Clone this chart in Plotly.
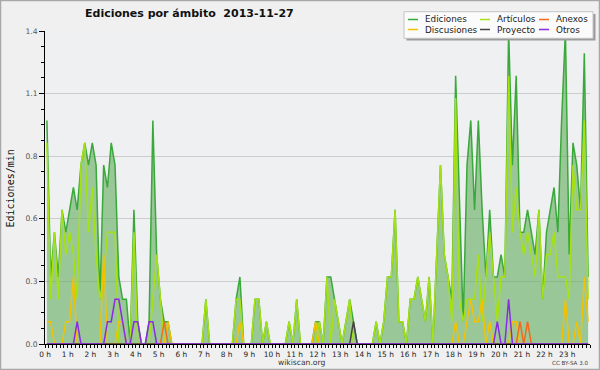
import plotly.graph_objects as go

# ---------------- data ----------------
TITLE = "Ediciones por ámbito  2013-11-27"
Y_LABEL = "Ediciones/min"
SOURCE = "wikiscan.org"
LICENSE = "CC BY-SA 3.0"

# centre of each 10-minute bin, in minutes since midnight
MINUTES = [5 + 10 * i for i in range(144)]

EDICIONES = [
    1.0, 0.3, 0.5, 0.3, 0.6, 0.5, 0.6, 0.7, 0.6, 0.8, 0.9, 0.8,
    0.9, 0.8, 0.2, 0.8, 0.7, 0.9, 0.8, 0.3, 0.2, 0.2, 0.0, 0.6,
    0.1, 0.0, 0.0, 0.1, 1.0, 0.4, 0.2, 0.1, 0.1, 0.0, 0.0, 0.0,
    0.0, 0.0, 0.0, 0.0, 0.0, 0.0, 0.2, 0.0, 0.0, 0.0, 0.0, 0.0,
    0.0, 0.0, 0.2, 0.3, 0.0, 0.0, 0.0, 0.2, 0.2, 0.0, 0.1, 0.0,
    0.0, 0.0, 0.0, 0.0, 0.1, 0.0, 0.2, 0.0, 0.0, 0.0, 0.0, 0.1,
    0.1, 0.0, 0.3, 0.3, 0.2, 0.1, 0.0, 0.1, 0.2, 0.1, 0.0, 0.0,
    0.0, 0.0, 0.0, 0.1, 0.0, 0.1, 0.3, 0.3, 0.6, 0.1, 0.1, 0.0,
    0.2, 0.2, 0.3, 0.2, 0.1, 0.3, 0.0, 0.4, 0.8, 0.4, 0.3, 0.2,
    1.2, 0.6, 0.1, 0.8, 1.0, 0.6, 1.0, 0.6, 0.3, 0.6, 0.3, 0.3,
    0.4, 0.3, 1.4, 0.8, 1.2, 0.5, 0.5, 0.6, 0.5, 0.4, 0.6, 0.2,
    0.5, 0.6, 0.7, 0.5, 1.0, 1.4, 0.4, 0.9, 0.8, 0.6, 1.3, 0.3,
]

ARTICULOS = [
    0.9, 0.2, 0.5, 0.2, 0.6, 0.4, 0.5, 0.4, 0.2, 0.8, 0.9, 0.5,
    0.7, 0.4, 0.2, 0.3, 0.5, 0.5, 0.5, 0.0, 0.0, 0.0, 0.0, 0.5,
    0.0, 0.0, 0.0, 0.0, 0.2, 0.4, 0.2, 0.0, 0.0, 0.0, 0.0, 0.0,
    0.0, 0.0, 0.0, 0.0, 0.0, 0.0, 0.2, 0.0, 0.0, 0.0, 0.0, 0.0,
    0.0, 0.0, 0.2, 0.2, 0.0, 0.0, 0.0, 0.2, 0.2, 0.0, 0.1, 0.0,
    0.0, 0.0, 0.0, 0.0, 0.1, 0.0, 0.2, 0.0, 0.0, 0.0, 0.0, 0.0,
    0.1, 0.0, 0.3, 0.0, 0.2, 0.1, 0.0, 0.1, 0.2, 0.0, 0.0, 0.0,
    0.0, 0.0, 0.0, 0.1, 0.0, 0.1, 0.3, 0.3, 0.6, 0.1, 0.1, 0.0,
    0.2, 0.2, 0.3, 0.2, 0.1, 0.3, 0.0, 0.4, 0.8, 0.4, 0.3, 0.1,
    1.1, 0.2, 0.1, 0.2, 0.2, 0.2, 0.4, 0.1, 0.3, 0.5, 0.3, 0.1,
    0.3, 0.3, 1.2, 0.5, 0.7, 0.5, 0.4, 0.5, 0.4, 0.3, 0.6, 0.2,
    0.4, 0.4, 0.5, 0.3, 0.3, 0.3, 0.2, 0.8, 0.6, 0.6, 1.0, 0.2,
]

DISCUSIONES = [
    0.1, 0.1, 0.0, 0.0, 0.0, 0.1, 0.1, 0.3, 0.0, 0.0, 0.0, 0.0,
    0.0, 0.0, 0.0, 0.4, 0.0, 0.0, 0.0, 0.1, 0.1, 0.0, 0.0, 0.0,
    0.0, 0.0, 0.0, 0.0, 0.0, 0.0, 0.0, 0.0, 0.1, 0.0, 0.0, 0.0,
    0.0, 0.0, 0.0, 0.0, 0.0, 0.0, 0.0, 0.0, 0.0, 0.0, 0.0, 0.0,
    0.0, 0.0, 0.0, 0.1, 0.0, 0.0, 0.0, 0.0, 0.0, 0.0, 0.0, 0.0,
    0.0, 0.0, 0.0, 0.0, 0.0, 0.0, 0.0, 0.0, 0.0, 0.0, 0.0, 0.1,
    0.0, 0.0, 0.0, 0.0, 0.0, 0.0, 0.0, 0.0, 0.0, 0.0, 0.0, 0.0,
    0.0, 0.0, 0.0, 0.0, 0.0, 0.0, 0.0, 0.0, 0.0, 0.0, 0.0, 0.0,
    0.0, 0.0, 0.0, 0.0, 0.0, 0.0, 0.0, 0.0, 0.0, 0.0, 0.0, 0.0,
    0.1, 0.0, 0.0, 0.1, 0.2, 0.1, 0.1, 0.2, 0.0, 0.1, 0.0, 0.0,
    0.0, 0.0, 0.0, 0.1, 0.1, 0.0, 0.0, 0.0, 0.0, 0.0, 0.0, 0.0,
    0.0, 0.0, 0.0, 0.0, 0.0, 0.2, 0.0, 0.0, 0.1, 0.0, 0.3, 0.1,
]

ANEXOS = [
    0.0, 0.0, 0.0, 0.0, 0.0, 0.0, 0.0, 0.0, 0.0, 0.0, 0.0, 0.0,
    0.0, 0.0, 0.0, 0.0, 0.0, 0.0, 0.0, 0.0, 0.0, 0.0, 0.0, 0.0,
    0.0, 0.0, 0.0, 0.0, 0.0, 0.0, 0.0, 0.1, 0.0, 0.0, 0.0, 0.0,
    0.0, 0.0, 0.0, 0.0, 0.0, 0.0, 0.0, 0.0, 0.0, 0.0, 0.0, 0.0,
    0.0, 0.0, 0.0, 0.0, 0.0, 0.0, 0.0, 0.0, 0.0, 0.0, 0.0, 0.0,
    0.0, 0.0, 0.0, 0.0, 0.0, 0.0, 0.0, 0.0, 0.0, 0.0, 0.0, 0.0,
    0.0, 0.0, 0.0, 0.0, 0.0, 0.0, 0.0, 0.0, 0.0, 0.0, 0.0, 0.0,
    0.0, 0.0, 0.0, 0.0, 0.0, 0.0, 0.0, 0.0, 0.0, 0.0, 0.0, 0.0,
    0.0, 0.0, 0.0, 0.0, 0.0, 0.0, 0.0, 0.0, 0.0, 0.0, 0.0, 0.0,
    0.0, 0.0, 0.0, 0.0, 0.0, 0.0, 0.0, 0.0, 0.0, 0.0, 0.0, 0.0,
    0.0, 0.0, 0.0, 0.0, 0.0, 0.1, 0.0, 0.1, 0.0, 0.0, 0.0, 0.0,
    0.0, 0.0, 0.0, 0.0, 0.0, 0.0, 0.0, 0.0, 0.0, 0.0, 0.0, 0.0,
]

PROYECTO = [
    0.0, 0.0, 0.0, 0.0, 0.0, 0.0, 0.0, 0.0, 0.0, 0.0, 0.0, 0.0,
    0.0, 0.0, 0.0, 0.0, 0.0, 0.0, 0.0, 0.0, 0.0, 0.0, 0.0, 0.0,
    0.0, 0.0, 0.0, 0.0, 0.0, 0.0, 0.0, 0.0, 0.0, 0.0, 0.0, 0.0,
    0.0, 0.0, 0.0, 0.0, 0.0, 0.0, 0.0, 0.0, 0.0, 0.0, 0.0, 0.0,
    0.0, 0.0, 0.0, 0.0, 0.0, 0.0, 0.0, 0.0, 0.0, 0.0, 0.0, 0.0,
    0.0, 0.0, 0.0, 0.0, 0.0, 0.0, 0.0, 0.0, 0.0, 0.0, 0.0, 0.0,
    0.0, 0.0, 0.0, 0.0, 0.0, 0.0, 0.0, 0.0, 0.0, 0.1, 0.0, 0.0,
    0.0, 0.0, 0.0, 0.0, 0.0, 0.0, 0.0, 0.0, 0.0, 0.0, 0.0, 0.0,
    0.0, 0.0, 0.0, 0.0, 0.0, 0.0, 0.0, 0.0, 0.0, 0.0, 0.0, 0.0,
    0.0, 0.0, 0.0, 0.0, 0.0, 0.0, 0.0, 0.0, 0.0, 0.0, 0.0, 0.0,
    0.0, 0.0, 0.0, 0.0, 0.0, 0.0, 0.0, 0.0, 0.0, 0.0, 0.0, 0.0,
    0.0, 0.0, 0.0, 0.0, 0.0, 0.0, 0.0, 0.0, 0.0, 0.0, 0.0, 0.0,
]

OTROS = [
    0.0, 0.0, 0.0, 0.0, 0.0, 0.0, 0.0, 0.0, 0.1, 0.0, 0.0, 0.0,
    0.0, 0.0, 0.0, 0.0, 0.1, 0.1, 0.2, 0.2, 0.1, 0.0, 0.0, 0.1,
    0.1, 0.0, 0.0, 0.1, 0.1, 0.0, 0.0, 0.0, 0.0, 0.0, 0.0, 0.0,
    0.0, 0.0, 0.0, 0.0, 0.0, 0.0, 0.0, 0.0, 0.0, 0.0, 0.0, 0.0,
    0.0, 0.0, 0.0, 0.0, 0.0, 0.0, 0.0, 0.0, 0.0, 0.0, 0.0, 0.0,
    0.0, 0.0, 0.0, 0.0, 0.0, 0.0, 0.0, 0.0, 0.0, 0.0, 0.0, 0.0,
    0.0, 0.0, 0.0, 0.0, 0.0, 0.0, 0.0, 0.0, 0.0, 0.0, 0.0, 0.0,
    0.0, 0.0, 0.0, 0.0, 0.0, 0.0, 0.0, 0.0, 0.0, 0.0, 0.0, 0.0,
    0.0, 0.0, 0.0, 0.0, 0.0, 0.0, 0.0, 0.0, 0.0, 0.0, 0.0, 0.0,
    0.0, 0.0, 0.0, 0.0, 0.0, 0.0, 0.0, 0.0, 0.0, 0.0, 0.0, 0.1,
    0.0, 0.0, 0.2, 0.0, 0.0, 0.0, 0.0, 0.0, 0.0, 0.0, 0.0, 0.0,
    0.0, 0.0, 0.0, 0.0, 0.0, 0.0, 0.0, 0.0, 0.0, 0.0, 0.0, 0.0,
]

HOUR_TICKS = [0, 60, 120, 180, 240, 300, 360, 420, 480, 540, 600, 660,
              720, 780, 840, 900, 960, 1020, 1080, 1140, 1200, 1260, 1320, 1380]
HOUR_LABELS = ["0 h", "1 h", "2 h", "3 h", "4 h", "5 h", "6 h", "7 h",
               "8 h", "9 h", "10 h", "11 h", "12 h", "13 h", "14 h", "15 h",
               "16 h", "17 h", "18 h", "19 h", "20 h", "21 h", "22 h", "23 h"]
Y_TICKS = [0.0, 0.28, 0.56, 0.84, 1.12, 1.4]
Y_LABELS = ["0.0", "0.3", "0.6", "0.8", "1.1", "1.4"]

# ---------------- style ----------------
W, H = 600, 370
ML, MR, MT, MB = 45, 10, 31, 26
PW, PH = W - ML - MR, H - MT - MB
FONT = "DejaVu Sans"

C_ED = "#3aa83a"
C_ED_FILL = "rgba(88,168,82,0.56)"
C_AR = "#a6e212"
C_DI = "#f2c200"
C_AN = "#f26a1c"
C_PR = "#454545"
C_OT = "#8a2be2"


def px(x):
    return (x - ML) / PW


def py(y):
    return (H - MB - y) / PH


fig = go.Figure()
fig.add_trace(go.Scatter(x=MINUTES, y=EDICIONES, name="Ediciones", mode="lines",
                         fill="tozeroy", fillcolor=C_ED_FILL,
                         line=dict(color=C_ED, width=1.5), showlegend=False))
for name, vals, col in [("Artículos", ARTICULOS, C_AR),
                        ("Discusiones", DISCUSIONES, C_DI),
                        ("Anexos", ANEXOS, C_AN),
                        ("Proyecto", PROYECTO, C_PR),
                        ("Otros", OTROS, C_OT)]:
    fig.add_trace(go.Scatter(x=MINUTES, y=vals, name=name, mode="lines",
                             line=dict(color=col, width=1.5), showlegend=False))

shapes = [
    # outer frame
    dict(type="rect", xref="paper", yref="paper", x0=px(0.5), x1=px(W - 0.5),
         y0=py(H - 0.5), y1=py(0.5), line=dict(color="#a8a8a8", width=1.5),
         fillcolor="rgba(0,0,0,0)", layer="above"),
    # legend shadow + box
    dict(type="rect", xref="paper", yref="paper", x0=px(406.5), x1=px(595.5),
         y0=py(40.5), y1=py(14), line=dict(width=0), fillcolor="#9c9c9c", layer="above"),
    dict(type="rect", xref="paper", yref="paper", x0=px(404), x1=px(593),
         y0=py(38.3), y1=py(11.7), line=dict(color="#c4c4c4", width=1),
         fillcolor="#fbfbfb", layer="above"),
]
annotations = []
legend_items = [("Ediciones", C_ED, 408, 19.5), ("Artículos", C_AR, 480, 19.5),
                ("Anexos", C_AN, 539, 19.5), ("Discusiones", C_DI, 408, 29.5),
                ("Proyecto", C_PR, 480, 29.5), ("Otros", C_OT, 539, 29.5)]
for name, col, lx, ly in legend_items:
    shapes.append(dict(type="line", xref="paper", yref="paper", x0=px(lx), x1=px(lx + 10),
                       y0=py(ly), y1=py(ly), line=dict(color=col, width=1.5), layer="above"))
    annotations.append(dict(text=name, xref="paper", yref="paper", x=px(lx + 15), y=py(ly),
                            xanchor="left", yanchor="middle", showarrow=False,
                            font=dict(family=FONT, size=8.8, color="#222222")))

annotations += [
    dict(text=Y_LABEL, xref="paper", yref="paper", x=px(9.5), y=py(189),
         xanchor="center", yanchor="middle", textangle=-90, showarrow=False,
         font=dict(family="DejaVu Sans Mono", size=10, color="#111111")),
    dict(text=SOURCE, xref="paper", yref="paper", x=px(301), y=py(362.5),
         xanchor="center", yanchor="middle", showarrow=False,
         font=dict(family=FONT, size=7.6, color="#333333")),
    dict(text=LICENSE, xref="paper", yref="paper", x=px(590), y=py(362.5),
         xanchor="right", yanchor="middle", showarrow=False,
         font=dict(family=FONT, size=5.6, color="#444444")),
]

fig.update_layout(
    width=W, height=H,
    margin=dict(l=ML, r=MR, t=MT, b=MB, pad=0),
    paper_bgcolor="#f0f0f0", plot_bgcolor="#eef0f2",
    font=dict(family=FONT, size=8, color="#222222"),
    title=dict(text=TITLE, x=85 / W, xanchor="left", y=1 - 13.5 / H, yanchor="middle",
               font=dict(family=FONT, size=11, color="#111111", weight="bold")),
    showlegend=False,
    shapes=shapes, annotations=annotations,
    xaxis=dict(range=[0, 1440], tickmode="array", tickvals=HOUR_TICKS, ticktext=HOUR_LABELS,
               ticks="outside", ticklen=3, tickcolor="black", tickwidth=1,
               showline=True, linecolor="black", linewidth=1, showgrid=False, zeroline=False,
               tickfont=dict(family=FONT, size=7.4, color="#222222"),
               minor=dict(tickmode="linear", tick0=0, dtick=10, ticks="outside", ticklen=3,
                          tickcolor="black", tickwidth=1, showgrid=False),
               fixedrange=True),
    yaxis=dict(range=[0, 1.4], tickmode="array", tickvals=Y_TICKS, ticktext=Y_LABELS,
               ticks="outside", ticklen=5, tickcolor="black", tickwidth=1,
               showline=True, linecolor="black", linewidth=1,
               showgrid=True, gridcolor="#cdcdcd", gridwidth=1, zeroline=False,
               tickfont=dict(family=FONT, size=7.6, color="#555555"),
               minor=dict(tickmode="linear", tick0=0, dtick=0.07, ticks="outside", ticklen=3,
                          tickcolor="black", tickwidth=1, showgrid=False),
               fixedrange=True),
)

fig.write_html(
    "out.html",
    config={"displayModeBar": False},
    post_script="document.documentElement.style.margin='0';"
                "document.body.style.margin='0';document.body.style.overflow='hidden';",
)
